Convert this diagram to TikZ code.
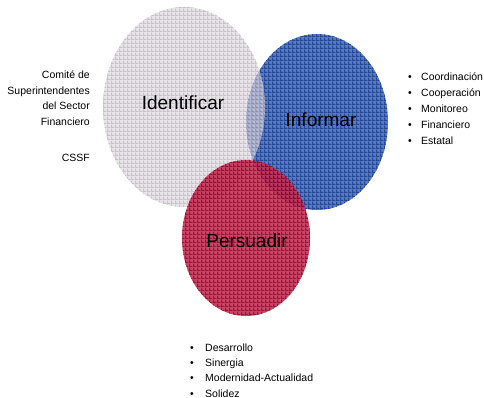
\documentclass[tikz,border=0pt]{standalone}
\usepackage{fontspec}
\setmainfont{Liberation Sans}
\usetikzlibrary{patterns}
\pgfdeclarepatternformonly{mygrid}{\pgfqpoint{0pt}{0pt}}{\pgfqpoint{3.7pt}{3.7pt}}{\pgfqpoint{3.7pt}{3.7pt}}{%
  \pgfpathrectangle{\pgfqpoint{0pt}{0pt}}{\pgfqpoint{3.7pt}{1.2pt}}%
  \pgfpathrectangle{\pgfqpoint{0pt}{0pt}}{\pgfqpoint{1.2pt}{3.7pt}}%
  \pgfusepath{fill}}
\begin{document}
\begin{tikzpicture}[x=1pt,y=-1pt,
  big/.style={anchor=base,font=\fontsize{19}{19}\selectfont,inner sep=0pt},
  small/.style={font=\fontsize{10.5}{12}\selectfont,inner sep=0pt},
  lefttxt/.style={small,anchor=base east},
  itemtxt/.style={small,anchor=base west},
  bul/.style={small,anchor=base},
]
\definecolor{bluecell}{RGB}{85,125,195}
\definecolor{blueline}{RGB}{40,70,150}
\definecolor{graycell}{RGB}{224,217,224}
\definecolor{grayline}{RGB}{177,170,177}
\definecolor{redcell}{RGB}{199,49,88}
\definecolor{redline}{RGB}{138,0,27}
\useasboundingbox (0,0) rectangle (484,398);
% circles
\begin{scope}
  \fill[bluecell] (317,122) ellipse [x radius=71, y radius=88];
  \fill[pattern=mygrid,pattern color=blueline] (317,122) ellipse [x radius=71, y radius=88];
\end{scope}
\begin{scope}[transparency group,opacity=0.7]
  \fill[graycell] (184,107) ellipse [x radius=81, y radius=100];
  \fill[pattern=mygrid,pattern color=grayline] (184,107) ellipse [x radius=81, y radius=100];
\end{scope}
\begin{scope}[transparency group,opacity=0.9]
  \fill[redcell] (246,238) ellipse [x radius=64, y radius=78];
  \fill[pattern=mygrid,pattern color=redline] (246,238) ellipse [x radius=64, y radius=78];
\end{scope}
% labels
\node[big] (ident) at (183,110) {Identificar};
\node[big] (inf) at (321,127) {Informar};
\node[big] (pers) at (247,247) {Persuadir};
% left text
\node[lefttxt] (l1) at (90,79) {Comité de};
\node[lefttxt] (l2) at (90,95) {Superintendentes};
\node[lefttxt] (l3) at (90,110) {del Sector};
\node[lefttxt] (l4) at (90,126) {Financiero};
\node[lefttxt] (l5) at (90,161) {CSSF};
% right list
\foreach \t [count=\i] in {Coordinación,Cooperación,Monitoreo,Financiero,Estatal}{
  \node[bul] (rb\i) at (410,{81+15.8*(\i-1)}) {\textbullet};
  \node[itemtxt] (r\i) at (421,{81+15.8*(\i-1)}) {\t};
}
% bottom list
\foreach \t [count=\i] in {Desarrollo,Sinergia,Modernidad-Actualidad,Solidez}{
  \node[bul] (bb\i) at (192,{351+15.4*(\i-1)}) {\textbullet};
  \node[itemtxt] (b\i) at (205,{351+15.4*(\i-1)}) {\t};
}
\end{tikzpicture}
\end{document}
